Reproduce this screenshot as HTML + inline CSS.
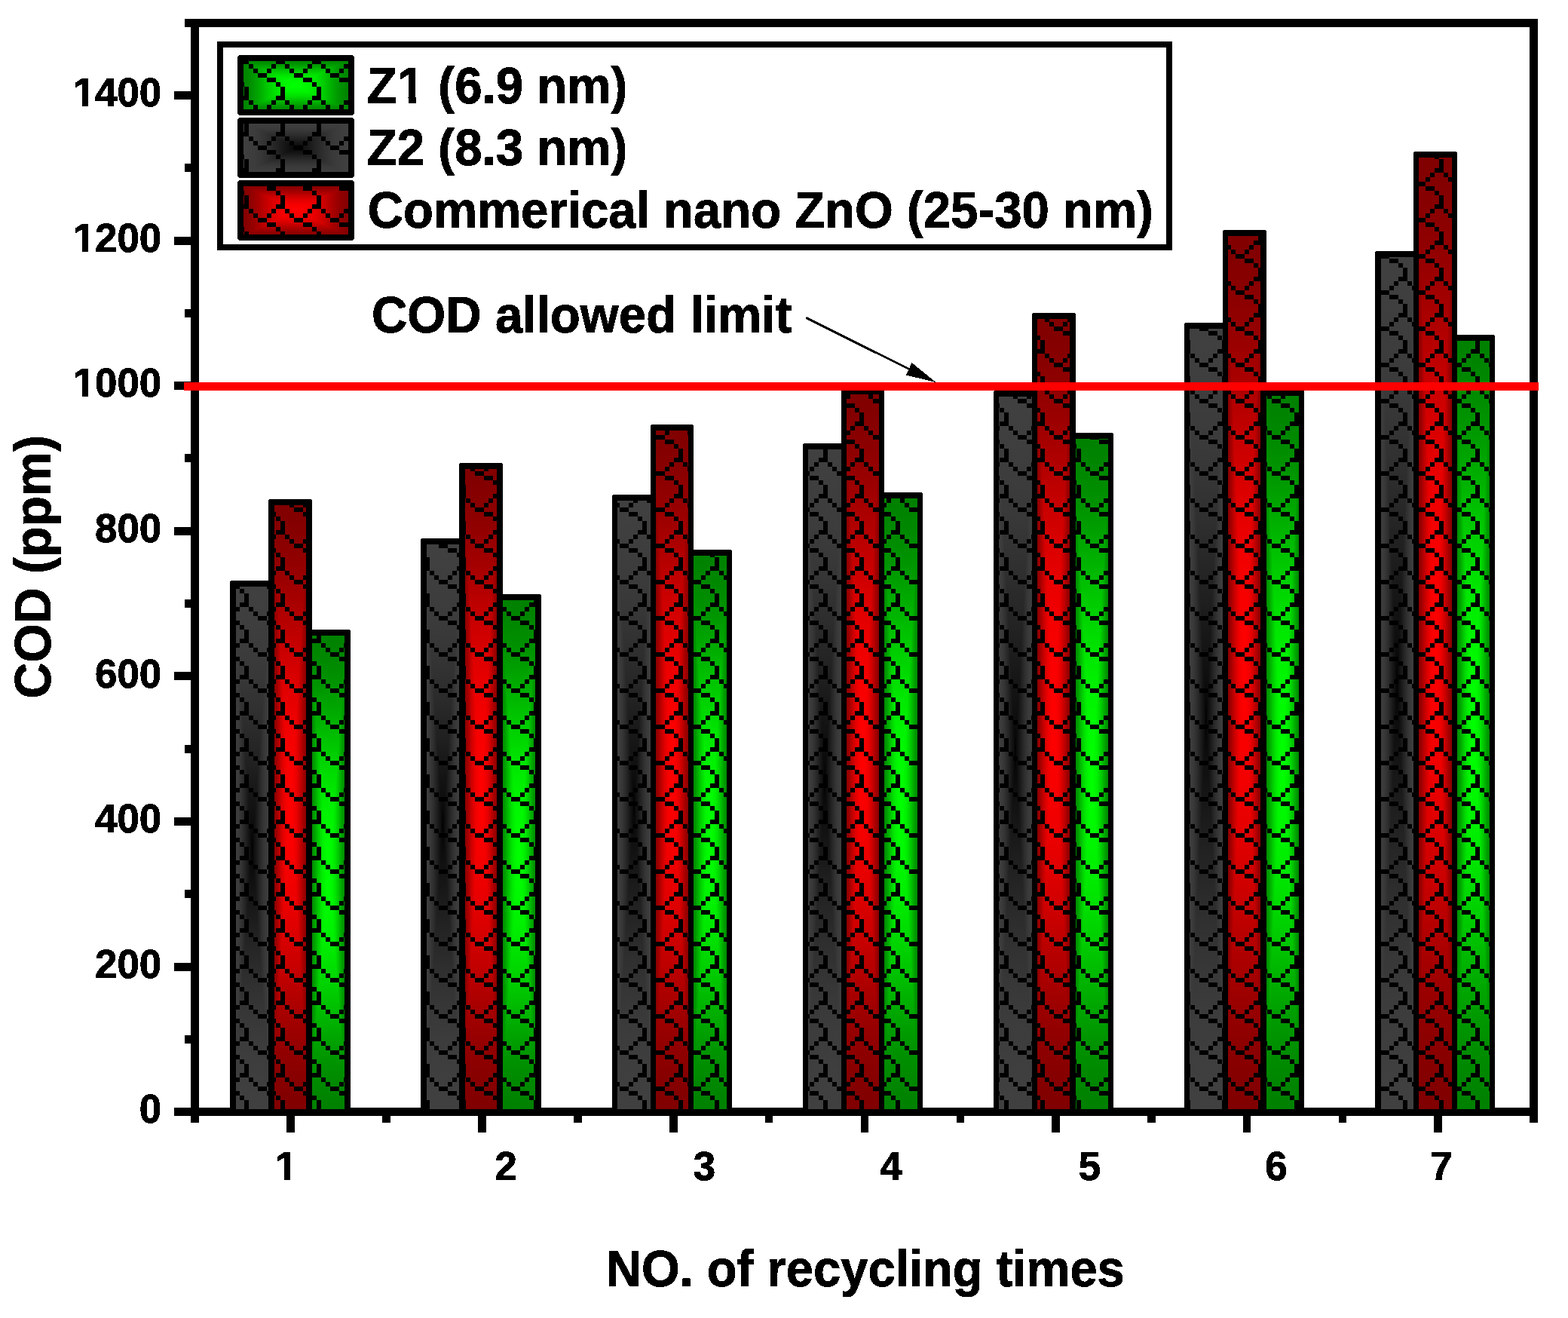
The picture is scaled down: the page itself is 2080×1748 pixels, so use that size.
<!DOCTYPE html>
<html lang="en"><head><meta charset="utf-8"><title>COD vs NO. of recycling times</title>
<style>html,body{margin:0;padding:0;background:#fff}body{width:2080px;height:1748px;overflow:hidden}svg{display:block}text{font-family:"Liberation Sans",Arial,Helvetica,sans-serif;font-weight:bold;fill:#000;stroke:#000;stroke-linejoin:miter;font-kerning:none;white-space:pre}</style>
</head><body>
<svg width="2080" height="1748" viewBox="0 0 2080 1748" shape-rendering="crispEdges">
<defs>
<pattern id="sh" patternUnits="userSpaceOnUse" x="42" y="31" width="48" height="48"><path d="M36 0h12v6h-12zM0 6h6v6h-6zM30 6h6v6h-6zM6 12h6v6h-6zM24 12h6v6h-6zM12 18h12v6h-12zM24 24h12v6h-12zM36 30h6v6h-6zM42 36h6v6h-6zM42 42h6v6h-6z" fill="#000"/></pattern>
<pattern id="sh2" patternUnits="userSpaceOnUse" x="43" y="31" width="48" height="48"><path d="M36 0h12v6h-12zM0 6h6v6h-6zM30 6h6v6h-6zM6 12h6v6h-6zM24 12h6v6h-6zM12 18h12v6h-12zM24 24h12v6h-12zM36 30h6v6h-6zM42 36h6v6h-6zM42 42h6v6h-6z" fill="#000"/></pattern>
<linearGradient id="hk" x1="0" y1="0" x2="1" y2="0"><stop offset="0" stop-color="#404040"/><stop offset="0.025" stop-color="#404040"/><stop offset="0.05" stop-color="#3f3f3f"/><stop offset="0.075" stop-color="#3e3e3e"/><stop offset="0.1" stop-color="#3d3d3d"/><stop offset="0.125" stop-color="#3c3c3c"/><stop offset="0.15" stop-color="#3a3a3a"/><stop offset="0.175" stop-color="#383838"/><stop offset="0.2" stop-color="#353535"/><stop offset="0.225" stop-color="#323232"/><stop offset="0.25" stop-color="#2f2f2f"/><stop offset="0.275" stop-color="#2b2b2b"/><stop offset="0.3" stop-color="#272727"/><stop offset="0.325" stop-color="#232323"/><stop offset="0.35" stop-color="#1f1f1f"/><stop offset="0.375" stop-color="#1a1a1a"/><stop offset="0.4" stop-color="#161616"/><stop offset="0.425" stop-color="#121212"/><stop offset="0.45" stop-color="#0e0e0e"/><stop offset="0.475" stop-color="#090909"/><stop offset="0.5" stop-color="#000000"/><stop offset="0.525" stop-color="#090909"/><stop offset="0.55" stop-color="#0e0e0e"/><stop offset="0.575" stop-color="#121212"/><stop offset="0.6" stop-color="#161616"/><stop offset="0.625" stop-color="#1a1a1a"/><stop offset="0.65" stop-color="#1f1f1f"/><stop offset="0.675" stop-color="#232323"/><stop offset="0.7" stop-color="#272727"/><stop offset="0.725" stop-color="#2b2b2b"/><stop offset="0.75" stop-color="#2f2f2f"/><stop offset="0.775" stop-color="#323232"/><stop offset="0.8" stop-color="#353535"/><stop offset="0.825" stop-color="#383838"/><stop offset="0.85" stop-color="#3a3a3a"/><stop offset="0.875" stop-color="#3c3c3c"/><stop offset="0.9" stop-color="#3d3d3d"/><stop offset="0.925" stop-color="#3e3e3e"/><stop offset="0.95" stop-color="#3f3f3f"/><stop offset="0.975" stop-color="#404040"/><stop offset="1" stop-color="#404040"/></linearGradient>
<linearGradient id="vk" x1="0" y1="0" x2="0" y2="1"><stop offset="0" stop-color="#404040"/><stop offset="0.025" stop-color="#404040"/><stop offset="0.05" stop-color="#3f3f3f"/><stop offset="0.075" stop-color="#3e3e3e"/><stop offset="0.1" stop-color="#3d3d3d"/><stop offset="0.125" stop-color="#3c3c3c"/><stop offset="0.15" stop-color="#3a3a3a"/><stop offset="0.175" stop-color="#383838"/><stop offset="0.2" stop-color="#353535"/><stop offset="0.225" stop-color="#323232"/><stop offset="0.25" stop-color="#2f2f2f"/><stop offset="0.275" stop-color="#2b2b2b"/><stop offset="0.3" stop-color="#272727"/><stop offset="0.325" stop-color="#232323"/><stop offset="0.35" stop-color="#1f1f1f"/><stop offset="0.375" stop-color="#1a1a1a"/><stop offset="0.4" stop-color="#161616"/><stop offset="0.425" stop-color="#121212"/><stop offset="0.45" stop-color="#0e0e0e"/><stop offset="0.475" stop-color="#090909"/><stop offset="0.5" stop-color="#000000"/><stop offset="0.525" stop-color="#090909"/><stop offset="0.55" stop-color="#0e0e0e"/><stop offset="0.575" stop-color="#121212"/><stop offset="0.6" stop-color="#161616"/><stop offset="0.625" stop-color="#1a1a1a"/><stop offset="0.65" stop-color="#1f1f1f"/><stop offset="0.675" stop-color="#232323"/><stop offset="0.7" stop-color="#272727"/><stop offset="0.725" stop-color="#2b2b2b"/><stop offset="0.75" stop-color="#2f2f2f"/><stop offset="0.775" stop-color="#323232"/><stop offset="0.8" stop-color="#353535"/><stop offset="0.825" stop-color="#383838"/><stop offset="0.85" stop-color="#3a3a3a"/><stop offset="0.875" stop-color="#3c3c3c"/><stop offset="0.9" stop-color="#3d3d3d"/><stop offset="0.925" stop-color="#3e3e3e"/><stop offset="0.95" stop-color="#3f3f3f"/><stop offset="0.975" stop-color="#404040"/><stop offset="1" stop-color="#404040"/></linearGradient>
<linearGradient id="hr" x1="0" y1="0" x2="1" y2="0"><stop offset="0" stop-color="#800000"/><stop offset="0.025" stop-color="#830000"/><stop offset="0.05" stop-color="#870000"/><stop offset="0.075" stop-color="#8c0000"/><stop offset="0.1" stop-color="#920000"/><stop offset="0.125" stop-color="#9a0000"/><stop offset="0.15" stop-color="#a30000"/><stop offset="0.175" stop-color="#ad0000"/><stop offset="0.2" stop-color="#b70000"/><stop offset="0.225" stop-color="#c20000"/><stop offset="0.25" stop-color="#cc0000"/><stop offset="0.275" stop-color="#d50000"/><stop offset="0.3" stop-color="#de0000"/><stop offset="0.325" stop-color="#e60000"/><stop offset="0.35" stop-color="#ec0000"/><stop offset="0.375" stop-color="#f20000"/><stop offset="0.4" stop-color="#f60000"/><stop offset="0.425" stop-color="#f90000"/><stop offset="0.45" stop-color="#fc0000"/><stop offset="0.475" stop-color="#fe0000"/><stop offset="0.5" stop-color="#ff0000"/><stop offset="0.525" stop-color="#fe0000"/><stop offset="0.55" stop-color="#fc0000"/><stop offset="0.575" stop-color="#f90000"/><stop offset="0.6" stop-color="#f60000"/><stop offset="0.625" stop-color="#f20000"/><stop offset="0.65" stop-color="#ec0000"/><stop offset="0.675" stop-color="#e60000"/><stop offset="0.7" stop-color="#de0000"/><stop offset="0.725" stop-color="#d50000"/><stop offset="0.75" stop-color="#cc0000"/><stop offset="0.775" stop-color="#c20000"/><stop offset="0.8" stop-color="#b70000"/><stop offset="0.825" stop-color="#ad0000"/><stop offset="0.85" stop-color="#a30000"/><stop offset="0.875" stop-color="#9a0000"/><stop offset="0.9" stop-color="#920000"/><stop offset="0.925" stop-color="#8c0000"/><stop offset="0.95" stop-color="#870000"/><stop offset="0.975" stop-color="#830000"/><stop offset="1" stop-color="#800000"/></linearGradient>
<linearGradient id="vr" x1="0" y1="0" x2="0" y2="1"><stop offset="0" stop-color="#800000"/><stop offset="0.025" stop-color="#830000"/><stop offset="0.05" stop-color="#870000"/><stop offset="0.075" stop-color="#8c0000"/><stop offset="0.1" stop-color="#920000"/><stop offset="0.125" stop-color="#9a0000"/><stop offset="0.15" stop-color="#a30000"/><stop offset="0.175" stop-color="#ad0000"/><stop offset="0.2" stop-color="#b70000"/><stop offset="0.225" stop-color="#c20000"/><stop offset="0.25" stop-color="#cc0000"/><stop offset="0.275" stop-color="#d50000"/><stop offset="0.3" stop-color="#de0000"/><stop offset="0.325" stop-color="#e60000"/><stop offset="0.35" stop-color="#ec0000"/><stop offset="0.375" stop-color="#f20000"/><stop offset="0.4" stop-color="#f60000"/><stop offset="0.425" stop-color="#f90000"/><stop offset="0.45" stop-color="#fc0000"/><stop offset="0.475" stop-color="#fe0000"/><stop offset="0.5" stop-color="#ff0000"/><stop offset="0.525" stop-color="#fe0000"/><stop offset="0.55" stop-color="#fc0000"/><stop offset="0.575" stop-color="#f90000"/><stop offset="0.6" stop-color="#f60000"/><stop offset="0.625" stop-color="#f20000"/><stop offset="0.65" stop-color="#ec0000"/><stop offset="0.675" stop-color="#e60000"/><stop offset="0.7" stop-color="#de0000"/><stop offset="0.725" stop-color="#d50000"/><stop offset="0.75" stop-color="#cc0000"/><stop offset="0.775" stop-color="#c20000"/><stop offset="0.8" stop-color="#b70000"/><stop offset="0.825" stop-color="#ad0000"/><stop offset="0.85" stop-color="#a30000"/><stop offset="0.875" stop-color="#9a0000"/><stop offset="0.9" stop-color="#920000"/><stop offset="0.925" stop-color="#8c0000"/><stop offset="0.95" stop-color="#870000"/><stop offset="0.975" stop-color="#830000"/><stop offset="1" stop-color="#800000"/></linearGradient>
<linearGradient id="hg" x1="0" y1="0" x2="1" y2="0"><stop offset="0" stop-color="#008000"/><stop offset="0.025" stop-color="#008300"/><stop offset="0.05" stop-color="#008700"/><stop offset="0.075" stop-color="#008c00"/><stop offset="0.1" stop-color="#009200"/><stop offset="0.125" stop-color="#009a00"/><stop offset="0.15" stop-color="#00a300"/><stop offset="0.175" stop-color="#00ad00"/><stop offset="0.2" stop-color="#00b700"/><stop offset="0.225" stop-color="#00c200"/><stop offset="0.25" stop-color="#00cc00"/><stop offset="0.275" stop-color="#00d500"/><stop offset="0.3" stop-color="#00de00"/><stop offset="0.325" stop-color="#00e600"/><stop offset="0.35" stop-color="#00ec00"/><stop offset="0.375" stop-color="#00f200"/><stop offset="0.4" stop-color="#00f600"/><stop offset="0.425" stop-color="#00f900"/><stop offset="0.45" stop-color="#00fc00"/><stop offset="0.475" stop-color="#00fe00"/><stop offset="0.5" stop-color="#00ff00"/><stop offset="0.525" stop-color="#00fe00"/><stop offset="0.55" stop-color="#00fc00"/><stop offset="0.575" stop-color="#00f900"/><stop offset="0.6" stop-color="#00f600"/><stop offset="0.625" stop-color="#00f200"/><stop offset="0.65" stop-color="#00ec00"/><stop offset="0.675" stop-color="#00e600"/><stop offset="0.7" stop-color="#00de00"/><stop offset="0.725" stop-color="#00d500"/><stop offset="0.75" stop-color="#00cc00"/><stop offset="0.775" stop-color="#00c200"/><stop offset="0.8" stop-color="#00b700"/><stop offset="0.825" stop-color="#00ad00"/><stop offset="0.85" stop-color="#00a300"/><stop offset="0.875" stop-color="#009a00"/><stop offset="0.9" stop-color="#009200"/><stop offset="0.925" stop-color="#008c00"/><stop offset="0.95" stop-color="#008700"/><stop offset="0.975" stop-color="#008300"/><stop offset="1" stop-color="#008000"/></linearGradient>
<linearGradient id="vg" x1="0" y1="0" x2="0" y2="1"><stop offset="0" stop-color="#008000"/><stop offset="0.025" stop-color="#008300"/><stop offset="0.05" stop-color="#008700"/><stop offset="0.075" stop-color="#008c00"/><stop offset="0.1" stop-color="#009200"/><stop offset="0.125" stop-color="#009a00"/><stop offset="0.15" stop-color="#00a300"/><stop offset="0.175" stop-color="#00ad00"/><stop offset="0.2" stop-color="#00b700"/><stop offset="0.225" stop-color="#00c200"/><stop offset="0.25" stop-color="#00cc00"/><stop offset="0.275" stop-color="#00d500"/><stop offset="0.3" stop-color="#00de00"/><stop offset="0.325" stop-color="#00e600"/><stop offset="0.35" stop-color="#00ec00"/><stop offset="0.375" stop-color="#00f200"/><stop offset="0.4" stop-color="#00f600"/><stop offset="0.425" stop-color="#00f900"/><stop offset="0.45" stop-color="#00fc00"/><stop offset="0.475" stop-color="#00fe00"/><stop offset="0.5" stop-color="#00ff00"/><stop offset="0.525" stop-color="#00fe00"/><stop offset="0.55" stop-color="#00fc00"/><stop offset="0.575" stop-color="#00f900"/><stop offset="0.6" stop-color="#00f600"/><stop offset="0.625" stop-color="#00f200"/><stop offset="0.65" stop-color="#00ec00"/><stop offset="0.675" stop-color="#00e600"/><stop offset="0.7" stop-color="#00de00"/><stop offset="0.725" stop-color="#00d500"/><stop offset="0.75" stop-color="#00cc00"/><stop offset="0.775" stop-color="#00c200"/><stop offset="0.8" stop-color="#00b700"/><stop offset="0.825" stop-color="#00ad00"/><stop offset="0.85" stop-color="#00a300"/><stop offset="0.875" stop-color="#009a00"/><stop offset="0.9" stop-color="#009200"/><stop offset="0.925" stop-color="#008c00"/><stop offset="0.95" stop-color="#008700"/><stop offset="0.975" stop-color="#008300"/><stop offset="1" stop-color="#008000"/></linearGradient>
<filter id="ta" x="-5%" y="-20%" width="110%" height="140%" color-interpolation-filters="sRGB"><feComponentTransfer><feFuncA type="discrete" tableValues="0 1"/></feComponentTransfer></filter>
</defs>
<rect width="2080" height="1748" fill="#fff"/>
<g id="axes" fill="#000">
<rect x="253" y="25" width="1787" height="11"/>
<rect x="253" y="1469" width="1787" height="11"/>
<rect x="253" y="25" width="11" height="1464"/>
<rect x="2029" y="25" width="11" height="1464"/>
<rect x="231" y="1469" width="23" height="11"/>
<rect x="231" y="1277" width="23" height="11"/>
<rect x="231" y="1084" width="23" height="11"/>
<rect x="231" y="891" width="23" height="11"/>
<rect x="231" y="699" width="23" height="11"/>
<rect x="231" y="506" width="23" height="11"/>
<rect x="231" y="314" width="23" height="11"/>
<rect x="231" y="121" width="23" height="11"/>
<rect x="245" y="1373" width="9" height="11"/>
<rect x="245" y="1180" width="9" height="11"/>
<rect x="245" y="988" width="9" height="11"/>
<rect x="245" y="795" width="9" height="11"/>
<rect x="245" y="602" width="9" height="11"/>
<rect x="245" y="410" width="9" height="11"/>
<rect x="245" y="217" width="9" height="11"/>
<rect x="245" y="25" width="9" height="11"/>
<rect x="380" y="1479" width="11" height="23"/>
<rect x="634" y="1479" width="11" height="23"/>
<rect x="888" y="1479" width="11" height="23"/>
<rect x="1142" y="1479" width="10" height="23"/>
<rect x="1395" y="1479" width="11" height="23"/>
<rect x="1649" y="1479" width="10" height="23"/>
<rect x="1902" y="1479" width="11" height="23"/>
<rect x="507" y="1479" width="11" height="10"/>
<rect x="761" y="1479" width="11" height="10"/>
<rect x="1015" y="1479" width="10" height="10"/>
<rect x="1269" y="1479" width="10" height="10"/>
<rect x="1522" y="1479" width="11" height="10"/>
<rect x="1776" y="1479" width="10" height="10"/>
</g>
<g id="bars">
<rect x="305" y="770" width="59" height="709" rx="3" fill="#000"/><clipPath id="c0"><rect x="313" y="778" width="43" height="693"/></clipPath><g clip-path="url(#c0)"><rect x="309" y="774" width="51" height="701" fill="url(#hk)"/><path d="M309 774H360L334.5 1124.5L360 1475H309L334.5 1124.5z" fill="url(#vk)"/><rect x="313" y="778" width="43" height="693" fill="url(#sh)"/></g>
<rect x="356" y="662" width="58" height="817" rx="3" fill="#000"/><clipPath id="c1"><rect x="364" y="670" width="42" height="801"/></clipPath><g clip-path="url(#c1)"><rect x="360" y="666" width="50" height="809" fill="url(#hr)"/><path d="M360 666H410L385 1070.5L410 1475H360L385 1070.5z" fill="url(#vr)"/><rect x="364" y="670" width="42" height="801" fill="url(#sh)"/></g>
<rect x="406" y="835" width="59" height="644" rx="3" fill="#000"/><clipPath id="c2"><rect x="414" y="843" width="43" height="628"/></clipPath><g clip-path="url(#c2)"><rect x="410" y="839" width="51" height="636" fill="url(#hg)"/><path d="M410 839H461L435.5 1157L461 1475H410L435.5 1157z" fill="url(#vg)"/><rect x="414" y="843" width="43" height="628" fill="url(#sh)"/></g>
<rect x="558" y="714" width="59" height="765" rx="3" fill="#000"/><clipPath id="c3"><rect x="566" y="722" width="43" height="749"/></clipPath><g clip-path="url(#c3)"><rect x="562" y="718" width="51" height="757" fill="url(#hk)"/><path d="M562 718H613L587.5 1096.5L613 1475H562L587.5 1096.5z" fill="url(#vk)"/><rect x="566" y="722" width="43" height="749" fill="url(#sh)"/></g>
<rect x="609" y="614" width="58" height="865" rx="3" fill="#000"/><clipPath id="c4"><rect x="617" y="622" width="42" height="849"/></clipPath><g clip-path="url(#c4)"><rect x="613" y="618" width="50" height="857" fill="url(#hr)"/><path d="M613 618H663L638 1046.5L663 1475H613L638 1046.5z" fill="url(#vr)"/><rect x="617" y="622" width="42" height="849" fill="url(#sh)"/></g>
<rect x="659" y="788" width="59" height="691" rx="3" fill="#000"/><clipPath id="c5"><rect x="667" y="796" width="43" height="675"/></clipPath><g clip-path="url(#c5)"><rect x="663" y="792" width="51" height="683" fill="url(#hg)"/><path d="M663 792H714L688.5 1133.5L714 1475H663L688.5 1133.5z" fill="url(#vg)"/><rect x="667" y="796" width="43" height="675" fill="url(#sh)"/></g>
<rect x="812" y="656" width="58" height="823" rx="3" fill="#000"/><clipPath id="c6"><rect x="819" y="664" width="44" height="807"/></clipPath><g clip-path="url(#c6)"><rect x="815.5" y="660" width="51" height="815" fill="url(#hk)"/><path d="M815.5 660H866.5L841 1067.5L866.5 1475H815.5L841 1067.5z" fill="url(#vk)"/><rect x="819" y="664" width="44" height="807" fill="url(#sh)"/></g>
<rect x="863" y="563" width="57" height="916" rx="3" fill="#000"/><clipPath id="c7"><rect x="870" y="571" width="43" height="900"/></clipPath><g clip-path="url(#c7)"><rect x="866.5" y="567" width="50" height="908" fill="url(#hr)"/><path d="M866.5 567H916.5L891.5 1021L916.5 1475H866.5L891.5 1021z" fill="url(#vr)"/><rect x="870" y="571" width="43" height="900" fill="url(#sh)"/></g>
<rect x="913" y="729" width="58" height="750" rx="3" fill="#000"/><clipPath id="c8"><rect x="920" y="737" width="44" height="734"/></clipPath><g clip-path="url(#c8)"><rect x="916.5" y="733" width="51" height="742" fill="url(#hg)"/><path d="M916.5 733H967.5L942 1104L967.5 1475H916.5L942 1104z" fill="url(#vg)"/><rect x="920" y="737" width="44" height="734" fill="url(#sh)"/></g>
<rect x="1065" y="588" width="58" height="891" rx="3" fill="#000"/><clipPath id="c9"><rect x="1072" y="596" width="44" height="875"/></clipPath><g clip-path="url(#c9)"><rect x="1068.5" y="592" width="51" height="883" fill="url(#hk)"/><path d="M1068.5 592H1119.5L1094 1033.5L1119.5 1475H1068.5L1094 1033.5z" fill="url(#vk)"/><rect x="1072" y="596" width="44" height="875" fill="url(#sh)"/></g>
<rect x="1116" y="515" width="57" height="964" rx="3" fill="#000"/><clipPath id="c10"><rect x="1123" y="523" width="43" height="948"/></clipPath><g clip-path="url(#c10)"><rect x="1119.5" y="519" width="50" height="956" fill="url(#hr)"/><path d="M1119.5 519H1169.5L1144.5 997L1169.5 1475H1119.5L1144.5 997z" fill="url(#vr)"/><rect x="1123" y="523" width="43" height="948" fill="url(#sh)"/></g>
<rect x="1166" y="653" width="58" height="826" rx="3" fill="#000"/><clipPath id="c11"><rect x="1173" y="661" width="44" height="810"/></clipPath><g clip-path="url(#c11)"><rect x="1169.5" y="657" width="51" height="818" fill="url(#hg)"/><path d="M1169.5 657H1220.5L1195 1066L1220.5 1475H1169.5L1195 1066z" fill="url(#vg)"/><rect x="1173" y="661" width="44" height="810" fill="url(#sh)"/></g>
<rect x="1318" y="518" width="58" height="961" rx="3" fill="#000"/><clipPath id="c12"><rect x="1325" y="526" width="44" height="945"/></clipPath><g clip-path="url(#c12)"><rect x="1321.5" y="522" width="51" height="953" fill="url(#hk)"/><path d="M1321.5 522H1372.5L1347 998.5L1372.5 1475H1321.5L1347 998.5z" fill="url(#vk)"/><rect x="1325" y="526" width="44" height="945" fill="url(#sh)"/></g>
<rect x="1369" y="415" width="58" height="1064" rx="3" fill="#000"/><clipPath id="c13"><rect x="1376" y="423" width="43" height="1048"/></clipPath><g clip-path="url(#c13)"><rect x="1372.5" y="419" width="50.5" height="1056" fill="url(#hr)"/><path d="M1372.5 419H1423L1397.75 947L1423 1475H1372.5L1397.75 947z" fill="url(#vr)"/><rect x="1376" y="423" width="43" height="1048" fill="url(#sh)"/></g>
<rect x="1419" y="574" width="58" height="905" rx="3" fill="#000"/><clipPath id="c14"><rect x="1427" y="582" width="43" height="889"/></clipPath><g clip-path="url(#c14)"><rect x="1423" y="578" width="50.5" height="897" fill="url(#hg)"/><path d="M1423 578H1473.5L1448.25 1026.5L1473.5 1475H1423L1448.25 1026.5z" fill="url(#vg)"/><rect x="1427" y="582" width="43" height="889" fill="url(#sh)"/></g>
<rect x="1571" y="428" width="58" height="1051" rx="3" fill="#000"/><clipPath id="c15"><rect x="1578" y="436" width="44" height="1035"/></clipPath><g clip-path="url(#c15)"><rect x="1574.5" y="432" width="51" height="1043" fill="url(#hk)"/><path d="M1574.5 432H1625.5L1600 953.5L1625.5 1475H1574.5L1600 953.5z" fill="url(#vk)"/><rect x="1578" y="436" width="44" height="1035" fill="url(#sh2)"/></g>
<rect x="1622" y="305" width="58" height="1174" rx="3" fill="#000"/><clipPath id="c16"><rect x="1629" y="313" width="43" height="1158"/></clipPath><g clip-path="url(#c16)"><rect x="1625.5" y="309" width="50.5" height="1166" fill="url(#hr)"/><path d="M1625.5 309H1676L1650.75 892L1676 1475H1625.5L1650.75 892z" fill="url(#vr)"/><rect x="1629" y="313" width="43" height="1158" fill="url(#sh2)"/></g>
<rect x="1672" y="517" width="58" height="962" rx="3" fill="#000"/><clipPath id="c17"><rect x="1680" y="525" width="43" height="946"/></clipPath><g clip-path="url(#c17)"><rect x="1676" y="521" width="50.5" height="954" fill="url(#hg)"/><path d="M1676 521H1726.5L1701.25 998L1726.5 1475H1676L1701.25 998z" fill="url(#vg)"/><rect x="1680" y="525" width="43" height="946" fill="url(#sh2)"/></g>
<rect x="1824" y="333" width="58" height="1146" rx="3" fill="#000"/><clipPath id="c18"><rect x="1832" y="341" width="43" height="1130"/></clipPath><g clip-path="url(#c18)"><rect x="1828" y="337" width="50.5" height="1138" fill="url(#hk)"/><path d="M1828 337H1878.5L1853.25 906L1878.5 1475H1828L1853.25 906z" fill="url(#vk)"/><rect x="1832" y="341" width="43" height="1130" fill="url(#sh2)"/></g>
<rect x="1875" y="201" width="58" height="1278" rx="3" fill="#000"/><clipPath id="c19"><rect x="1882" y="209" width="44" height="1262"/></clipPath><g clip-path="url(#c19)"><rect x="1878.5" y="205" width="51" height="1270" fill="url(#hr)"/><path d="M1878.5 205H1929.5L1904 840L1929.5 1475H1878.5L1904 840z" fill="url(#vr)"/><rect x="1882" y="209" width="44" height="1262" fill="url(#sh2)"/></g>
<rect x="1926" y="444" width="57" height="1035" rx="3" fill="#000"/><clipPath id="c20"><rect x="1933" y="452" width="43" height="1019"/></clipPath><g clip-path="url(#c20)"><rect x="1929.5" y="448" width="50" height="1027" fill="url(#hg)"/><path d="M1929.5 448H1979.5L1954.5 961.5L1979.5 1475H1929.5L1954.5 961.5z" fill="url(#vg)"/><rect x="1933" y="452" width="43" height="1019" fill="url(#sh2)"/></g>
</g>
<rect x="244" y="507" width="1797" height="11" fill="#f00"/>
<g><line x1="1069.5" y1="421.5" x2="1208" y2="490.5" stroke="#000" stroke-width="3"/><path d="M1241.5 507L1202 497.5L1209.5 481z" fill="#000"/></g>
<g id="legend">
<rect x="292" y="59" width="1259" height="269" fill="none" stroke="#000" stroke-width="8"/>
<rect x="315" y="73" width="155" height="80" rx="4" fill="#000"/><clipPath id="c21"><rect x="323" y="81" width="139" height="64"/></clipPath><g clip-path="url(#c21)"><rect x="319" y="77" width="147" height="72" fill="url(#hg)"/><path d="M319 77H466L392.5 113L466 149H319L392.5 113z" fill="url(#vg)"/><rect x="323" y="81" width="139" height="64" fill="url(#sh)"/></g>
<rect x="315" y="156" width="155" height="80" rx="4" fill="#000"/><clipPath id="c22"><rect x="323" y="164" width="139" height="64"/></clipPath><g clip-path="url(#c22)"><rect x="319" y="160" width="147" height="72" fill="url(#hk)"/><path d="M319 160H466L392.5 196L466 232H319L392.5 196z" fill="url(#vk)"/><rect x="323" y="164" width="139" height="64" fill="url(#sh)"/></g>
<rect x="315" y="239" width="155" height="80" rx="4" fill="#000"/><clipPath id="c23"><rect x="323" y="247" width="139" height="64"/></clipPath><g clip-path="url(#c23)"><rect x="319" y="243" width="147" height="72" fill="url(#hr)"/><path d="M319 243H466L392.5 279L466 315H319L392.5 279z" fill="url(#vr)"/><rect x="323" y="247" width="139" height="64" fill="url(#sh)"/></g>
</g>
<g id="labels" filter="url(#ta)">
<text x="184.81" y="1489.3" font-size="54.3" stroke-width="1" textLength="29.35" lengthAdjust="spacingAndGlyphs">0</text>
<text x="126.10" y="1296.7" font-size="54.3" stroke-width="1" textLength="88.06" lengthAdjust="spacingAndGlyphs">200</text>
<text x="126.10" y="1104.1" font-size="54.3" stroke-width="1" textLength="88.06" lengthAdjust="spacingAndGlyphs">400</text>
<text x="126.10" y="911.6" font-size="54.3" stroke-width="1" textLength="88.06" lengthAdjust="spacingAndGlyphs">600</text>
<text x="126.10" y="719" font-size="54.3" stroke-width="1" textLength="88.06" lengthAdjust="spacingAndGlyphs">800</text>
<text x="96.75" y="526.4" font-size="54.3" stroke-width="1" textLength="117.41" lengthAdjust="spacingAndGlyphs">1000</text>
<text x="96.75" y="333.8" font-size="54.3" stroke-width="1" textLength="117.41" lengthAdjust="spacingAndGlyphs">1200</text>
<text x="96.75" y="141.2" font-size="54.3" stroke-width="1" textLength="117.41" lengthAdjust="spacingAndGlyphs">1400</text>
<text x="365.29" y="1565" font-size="54.3" stroke-width="1" textLength="29.35" lengthAdjust="spacingAndGlyphs">1</text>
<text x="656.46" y="1565" font-size="54.3" stroke-width="1" textLength="29.35" lengthAdjust="spacingAndGlyphs">2</text>
<text x="919.67" y="1565" font-size="54.3" stroke-width="1" textLength="29.35" lengthAdjust="spacingAndGlyphs">3</text>
<text x="1167.57" y="1565" font-size="54.3" stroke-width="1" textLength="29.35" lengthAdjust="spacingAndGlyphs">4</text>
<text x="1430.75" y="1565" font-size="54.3" stroke-width="1" textLength="29.35" lengthAdjust="spacingAndGlyphs">5</text>
<text x="1678.31" y="1565" font-size="54.3" stroke-width="1" textLength="29.35" lengthAdjust="spacingAndGlyphs">6</text>
<text x="1897.35" y="1565" font-size="54.3" stroke-width="1" textLength="29.35" lengthAdjust="spacingAndGlyphs">7</text>
<text x="486.80" y="137" font-size="68" stroke-width="1" textLength="345.46" lengthAdjust="spacingAndGlyphs">Z1 (6.9 nm)</text>
<text x="486.80" y="219" font-size="68" stroke-width="1" textLength="345.46" lengthAdjust="spacingAndGlyphs">Z2 (8.3 nm)</text>
<text x="487.82" y="302" font-size="68" stroke-width="1" textLength="1041.93" lengthAdjust="spacingAndGlyphs">Commerical nano ZnO (25-30 nm)</text>
<text x="493.01" y="440.5" font-size="68" stroke-width="1" textLength="557.29" lengthAdjust="spacingAndGlyphs">COD allowed limit</text>
<text x="803.84" y="1705.5" font-size="68" stroke-width="1" textLength="688.03" lengthAdjust="spacingAndGlyphs">NO. of recycling times</text>
<text transform="translate(67 924.3) rotate(-90)" x="-2.22" y="0" font-size="68" stroke-width="1" textLength="349.31" lengthAdjust="spacingAndGlyphs">COD (ppm)</text>
</g>
<g id="cover" fill="#fff"><rect x="98.39" y="520.36" width="10.18" height="7.54"/><rect x="116.81" y="520.36" width="9.18" height="7.54"/><rect x="98.39" y="327.76" width="10.18" height="7.54"/><rect x="116.81" y="327.76" width="9.18" height="7.54"/><rect x="98.39" y="135.16" width="10.18" height="7.54"/><rect x="116.81" y="135.16" width="9.18" height="7.54"/><rect x="366.93" y="1558.96" width="10.18" height="7.54"/><rect x="385.35" y="1558.96" width="9.18" height="7.54"/><rect x="529.05" y="129.56" width="12.50" height="8.94"/><rect x="551.53" y="129.56" width="11.26" height="8.94"/></g>
</svg>
</body></html>
